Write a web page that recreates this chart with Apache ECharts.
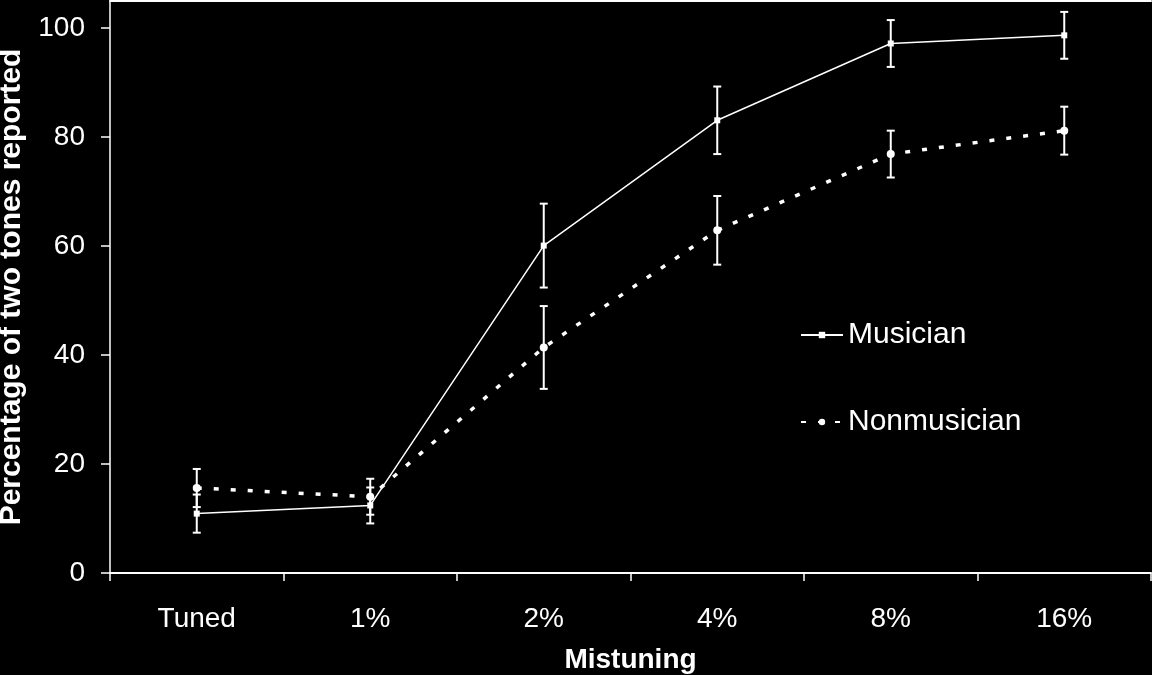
<!DOCTYPE html>
<html>
<head>
<meta charset="utf-8">
<script src="https://cdn.jsdelivr.net/npm/echarts@6/dist/echarts.min.js"></script>
<style>
html,body{margin:0;padding:0;background:#000;}
#chart{width:1152px;height:675px;}
</style>
</head>
<body>
<div id="chart"></div>
<script>
const categories = ['Tuned', '1%', '2%', '4%', '8%', '16%'];
const musicianMean = [10.9, 12.4, 60.1, 83.1, 97.2, 98.7];
const musicianErr = [3.5, 3.3, 7.7, 6.2, 4.3, 4.3];
const nonmusicianMean = [15.6, 14.0, 41.4, 62.9, 76.9, 81.2];
const nonmusicianErr = [3.5, 3.3, 7.6, 6.3, 4.3, 4.4];
const yTicks = [0, 20, 40, 60, 80, 100];

const FONT = '"Liberation Sans", Arial, sans-serif';

function errData(mean, err) {
  return mean.map((m, i) => [i, m, err[i]]);
}

function errRender(params, api) {
  const x = api.value(0), m = api.value(1), e = api.value(2);
  const top = api.coord([x, m + e]);
  const bot = api.coord([x, m - e]);
  const half = 4;
  const style = { stroke: '#fff', lineWidth: 2 };
  return {
    type: 'group',
    children: [
      { type: 'line', shape: { x1: top[0], y1: top[1], x2: bot[0], y2: bot[1] }, style: style },
      { type: 'line', shape: { x1: top[0] - half, y1: top[1], x2: top[0] + half, y2: top[1] }, style: style },
      { type: 'line', shape: { x1: bot[0] - half, y1: bot[1], x2: bot[0] + half, y2: bot[1] }, style: style }
    ]
  };
}

const chart = echarts.init(document.getElementById('chart'), null, { renderer: 'canvas' });
chart.setOption({
  backgroundColor: '#000',
  animation: false,
  textStyle: { fontFamily: FONT },
  grid: { left: 110, right: 1, top: 1, bottom: 102, containLabel: false, outerBoundsMode: 'none' },
  legend: {
    orient: 'vertical',
    left: 800,
    top: 320,
    padding: 0,
    itemWidth: 42,
    itemHeight: 8,
    itemGap: 57,
    data: ['Musician', 'Nonmusician'],
    textStyle: { color: '#fff', fontSize: 30, fontFamily: FONT }
  },
  xAxis: [{
    type: 'category',
    data: categories,
    boundaryGap: true,
    name: 'Mistuning',
    nameLocation: 'middle',
    nameGap: 73,
    nameTextStyle: { color: '#fff', fontSize: 28, fontWeight: 'bold', fontFamily: FONT },
    axisLine: { show: true, lineStyle: { color: '#fff', width: 2 } },
    axisTick: { show: true, inside: false, length: 8, alignWithLabel: false, lineStyle: { color: '#fff', width: 1.5 } },
    axisLabel: { color: '#fff', fontSize: 28, margin: 32, fontFamily: FONT },
    splitLine: { show: false }
  }, {
    type: 'category',
    data: categories,
    position: 'top',
    axisLine: { show: true, lineStyle: { color: '#fff', width: 2 } },
    axisTick: { show: false },
    axisLabel: { show: false },
    splitLine: { show: false }
  }],
  yAxis: {
    type: 'value',
    min: 0,
    max: 105,
    interval: 20,
    name: 'Percentage of two tones reported',
    nameLocation: 'middle',
    nameGap: 83,
    nameTextStyle: { color: '#fff', fontSize: 30, fontWeight: 'bold', fontFamily: FONT },
    axisLine: { show: true, lineStyle: { color: '#fff', width: 1.5 } },
    axisTick: { show: true, length: 9, customValues: yTicks, lineStyle: { color: '#fff', width: 1.5 } },
    axisLabel: { color: '#fff', fontSize: 28, margin: 25, customValues: yTicks, fontFamily: FONT },
    splitLine: { show: false }
  },
  series: [
    {
      name: 'Musician',
      type: 'line',
      data: musicianMean,
      symbol: 'rect',
      symbolSize: 6,
      itemStyle: { color: '#fff' },
      lineStyle: { color: '#fff', width: 1.5, type: 'solid' },
      z: 3
    },
    {
      name: 'Nonmusician',
      type: 'line',
      data: nonmusicianMean,
      symbol: 'circle',
      symbolSize: 8,
      itemStyle: { color: '#fff' },
      lineStyle: { color: '#fff', width: 3.5, type: [5, 12] },
      z: 3
    },
    {
      type: 'custom',
      renderItem: errRender,
      data: errData(musicianMean, musicianErr),
      encode: { x: 0, y: 1 },
      z: 2,
      silent: true
    },
    {
      type: 'custom',
      renderItem: errRender,
      data: errData(nonmusicianMean, nonmusicianErr),
      encode: { x: 0, y: 1 },
      z: 2,
      silent: true
    }
  ]
});
</script>
</body>
</html>
